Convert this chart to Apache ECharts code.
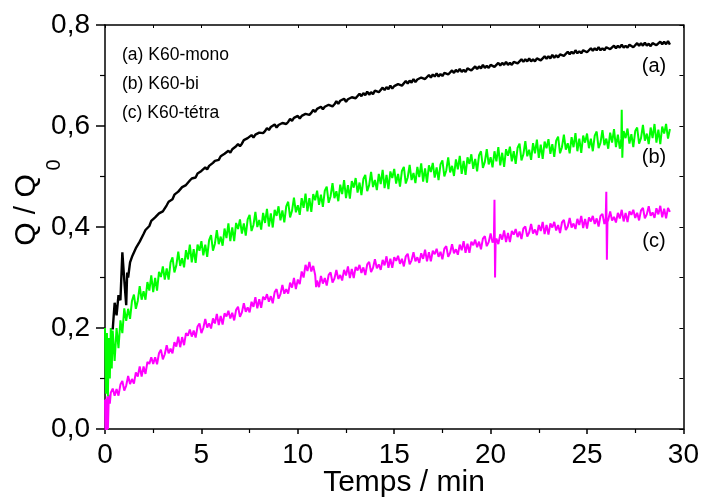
<!DOCTYPE html>
<html>
<head>
<meta charset="utf-8">
<script src="https://cdn.jsdelivr.net/npm/echarts@6/dist/echarts.min.js"></script>
<style>
html,body{margin:0;padding:0;background:#fff;}
#chart{width:702px;height:500px;}
</style>
</head>
<body>
<div id="chart"></div>
<script>
// ---- data (time in min, Q/Q0) ----
const xTickLabels = ['0', '5', '10', '15', '20', '25', '30'];
const yTickLabels = ['0,0', '0,2', '0,4', '0,6', '0,8'];
const legendLines = ['(a) K60-mono', '(b) K60-bi', '(c) K60-tétra'];
const curveTags = ['(a)', '(b)', '(c)'];

// (a) K60-mono
const seriesA = [
[0.4,0.197],[0.5,0.25],[0.6,0.225],[0.7,0.265],[0.8,0.255],[0.9,0.35],[1.0,0.295],[1.1,0.245],[1.15,0.31],[1.2,0.3],[1.3,0.33],
[1.4,0.341],[1.5,0.344],[1.6,0.358],[1.7,0.359],[1.8,0.371],[1.9,0.373],[2.0,0.386],[2.1,0.394],[2.2,0.395],[2.3,0.402],
[2.4,0.412],[2.5,0.41],[2.6,0.419],[2.7,0.418],[2.8,0.427],[2.9,0.424],[3.0,0.431],[3.1,0.432],[3.2,0.443],[3.3,0.45],
[3.4,0.449],[3.5,0.455],[3.6,0.464],[3.7,0.462],[3.8,0.47],[3.9,0.469],[4.0,0.479],[4.1,0.476],[4.2,0.483],[4.3,0.482],
[4.4,0.492],[4.5,0.496],[4.6,0.493],[4.7,0.498],[4.8,0.506],[4.9,0.503],[5.0,0.511],[5.1,0.509],[5.2,0.518],[5.3,0.514],
[5.4,0.521],[5.5,0.519],[5.6,0.527],[5.7,0.531],[5.8,0.528],[5.9,0.533],[6.0,0.54],[6.1,0.537],[6.2,0.545],[6.3,0.543],
[6.4,0.551],[6.5,0.547],[6.6,0.554],[6.7,0.552],[6.8,0.56],[6.9,0.564],[7.0,0.56],[7.1,0.565],[7.2,0.572],[7.3,0.569],
[7.4,0.576],[7.5,0.574],[7.6,0.582],[7.7,0.577],[7.8,0.583],[7.9,0.58],[8.0,0.587],[8.1,0.59],[8.2,0.586],[8.3,0.59],
[8.4,0.596],[8.5,0.592],[8.6,0.598],[8.7,0.595],[8.8,0.603],[8.9,0.597],[9.0,0.602],[9.1,0.599],[9.2,0.606],[9.3,0.609],
[9.4,0.604],[9.5,0.608],[9.6,0.614],[9.7,0.61],[9.8,0.616],[9.9,0.613],[10.0,0.62],[10.1,0.615],[10.2,0.62],[10.3,0.617],
[10.4,0.624],[10.5,0.627],[10.6,0.622],[10.7,0.626],[10.8,0.632],[10.9,0.628],[11.0,0.634],[11.1,0.631],[11.2,0.638],[11.3,0.633],
[11.4,0.638],[11.5,0.635],[11.6,0.642],[11.7,0.644],[11.8,0.639],[11.9,0.643],[12.0,0.649],[12.1,0.644],[12.2,0.65],[12.3,0.647],
[12.4,0.654],[12.5,0.648],[12.6,0.653],[12.7,0.65],[12.8,0.657],[12.9,0.66],[13.0,0.655],[13.1,0.658],[13.2,0.664],[13.3,0.659],
[13.4,0.665],[13.5,0.661],[13.6,0.668],[13.7,0.662],[13.8,0.667],[13.9,0.663],[14.0,0.67],[14.1,0.672],[14.2,0.667],[14.3,0.67],
[14.4,0.676],[14.5,0.671],[14.6,0.677],[14.7,0.673],[14.8,0.68],[14.9,0.674],[15.0,0.679],[15.1,0.676],[15.2,0.683],[15.3,0.685],
[15.4,0.68],[15.5,0.683],[15.6,0.689],[15.7,0.684],[15.8,0.69],[15.9,0.686],[16.0,0.693],[16.1,0.687],[16.2,0.692],[16.3,0.689],
[16.4,0.696],[16.5,0.698],[16.6,0.693],[16.7,0.696],[16.8,0.701],[16.9,0.696],[17.0,0.702],[17.1,0.698],[17.2,0.704],[17.3,0.698],
[17.4,0.703],[17.5,0.699],[17.6,0.705],[17.7,0.707],[17.8,0.702],[17.9,0.705],[18.0,0.71],[18.1,0.705],[18.2,0.711],[18.3,0.707],
[18.4,0.713],[18.5,0.707],[18.6,0.711],[18.7,0.707],[18.8,0.714],[18.9,0.716],[19.0,0.71],[19.1,0.713],[19.2,0.718],[19.3,0.713],
[19.4,0.718],[19.5,0.714],[19.6,0.721],[19.7,0.715],[19.8,0.719],[19.9,0.715],[20.0,0.721],[20.1,0.723],[20.2,0.717],[20.3,0.72],
[20.4,0.725],[20.5,0.72],[20.6,0.725],[20.7,0.721],[20.8,0.727],[20.9,0.721],[21.0,0.725],[21.1,0.721],[21.2,0.727],[21.3,0.729],
[21.4,0.724],[21.5,0.727],[21.6,0.732],[21.7,0.727],[21.8,0.732],[21.9,0.728],[22.0,0.734],[22.1,0.728],[22.2,0.732],[22.3,0.728],
[22.4,0.734],[22.5,0.736],[22.6,0.73],[22.7,0.733],[22.8,0.738],[22.9,0.733],[23.0,0.738],[23.1,0.734],[23.2,0.741],[23.3,0.735],
[23.4,0.74],[23.5,0.736],[23.6,0.742],[23.7,0.744],[23.8,0.739],[23.9,0.742],[24.0,0.747],[24.1,0.742],[24.2,0.747],[24.3,0.743],
[24.4,0.75],[24.5,0.744],[24.6,0.748],[24.7,0.744],[24.8,0.75],[24.9,0.752],[25.0,0.746],[25.1,0.749],[25.2,0.754],[25.3,0.749],
[25.4,0.754],[25.5,0.75],[25.6,0.756],[25.7,0.75],[25.8,0.754],[25.9,0.75],[26.0,0.756],[26.1,0.758],[26.2,0.752],[26.3,0.754],
[26.4,0.759],[26.5,0.754],[26.6,0.759],[26.7,0.755],[26.8,0.761],[26.9,0.755],[27.0,0.759],[27.1,0.755],[27.2,0.761],[27.3,0.762],
[27.4,0.756],[27.5,0.759],[27.6,0.764],[27.7,0.759],[27.8,0.764],[27.9,0.759],[28.0,0.765],[28.1,0.759],[28.2,0.763],[28.3,0.758],
[28.4,0.764],[28.5,0.766],[28.6,0.76],[28.7,0.762],[28.8,0.767],[28.9,0.762],[29.0,0.767],[29.1,0.762],[29.2,0.768],[29.3,0.761]
];

// (b) K60-bi
const seriesB = [
[0.0,0.2],[0.05,0.07],[0.1,0.19],[0.15,0.065],[0.2,0.18],[0.25,0.1],[0.3,0.2],[0.35,0.12],[0.4,0.195],[0.5,0.135],
[0.6,0.2],[0.7,0.16],[0.8,0.215],[0.9,0.19],
[1.0,0.239],[1.1,0.214],[1.2,0.238],[1.3,0.218],[1.4,0.254],[1.5,0.266],[1.6,0.238],[1.7,0.254],[1.8,0.283],[1.9,0.256],
[2.0,0.273],[2.1,0.256],[2.2,0.291],[2.3,0.274],[2.4,0.304],[2.5,0.271],[2.6,0.299],[2.7,0.274],[2.8,0.311],[2.9,0.301],
[3.0,0.322],[3.1,0.296],[3.2,0.318],[3.3,0.296],[3.4,0.33],[3.5,0.34],[3.6,0.31],[3.7,0.324],[3.8,0.351],[3.9,0.323],
[4.0,0.338],[4.1,0.32],[4.2,0.354],[4.3,0.336],[4.4,0.365],[4.5,0.33],[4.6,0.356],[4.7,0.329],[4.8,0.365],[4.9,0.353],
[5.0,0.372],[5.1,0.344],[5.2,0.365],[5.3,0.341],[5.4,0.374],[5.5,0.384],[5.6,0.353],[5.7,0.367],[5.8,0.394],[5.9,0.366],
[6.0,0.381],[6.1,0.363],[6.2,0.397],[6.3,0.378],[6.4,0.407],[6.5,0.372],[6.6,0.399],[6.7,0.372],[6.8,0.408],[6.9,0.396],
[7.0,0.415],[7.1,0.387],[7.2,0.407],[7.3,0.383],[7.4,0.415],[7.5,0.424],[7.6,0.392],[7.7,0.404],[7.8,0.43],[7.9,0.4],
[8.0,0.414],[8.1,0.395],[8.2,0.428],[8.3,0.408],[8.4,0.436],[8.5,0.401],[8.6,0.427],[8.7,0.399],[8.8,0.434],[8.9,0.422],
[9.0,0.441],[9.1,0.413],[9.2,0.433],[9.3,0.409],[9.4,0.441],[9.5,0.45],[9.6,0.419],[9.7,0.432],[9.8,0.458],[9.9,0.429],
[10.0,0.443],[10.1,0.424],[10.2,0.457],[10.3,0.438],[10.4,0.466],[10.5,0.431],[10.6,0.457],[10.7,0.43],[10.8,0.465],[10.9,0.453],
[11.0,0.472],[11.1,0.444],[11.2,0.464],[11.3,0.44],[11.4,0.472],[11.5,0.48],[11.6,0.448],[11.7,0.461],[11.8,0.487],[11.9,0.457],
[12.0,0.471],[12.1,0.451],[12.2,0.484],[12.3,0.465],[12.4,0.493],[12.5,0.457],[12.6,0.483],[12.7,0.456],[12.8,0.491],[12.9,0.478],
[13.0,0.497],[13.1,0.468],[13.2,0.488],[13.3,0.463],[13.4,0.495],[13.5,0.503],[13.6,0.471],[13.7,0.483],[13.8,0.509],[13.9,0.479],
[14.0,0.493],[14.1,0.473],[14.2,0.505],[14.3,0.485],[14.4,0.513],[14.5,0.477],[14.6,0.503],[14.7,0.475],[14.8,0.51],[14.9,0.497],
[15.0,0.515],[15.1,0.486],[15.2,0.505],[15.3,0.48],[15.4,0.511],[15.5,0.519],[15.6,0.486],[15.7,0.498],[15.8,0.523],[15.9,0.493],
[16.0,0.507],[16.1,0.487],[16.2,0.519],[16.3,0.499],[16.4,0.526],[16.5,0.49],[16.6,0.516],[16.7,0.488],[16.8,0.522],[16.9,0.509],
[17.0,0.527],[17.1,0.498],[17.2,0.518],[17.3,0.493],[17.4,0.524],[17.5,0.532],[17.6,0.5],[17.7,0.512],[17.8,0.538],[17.9,0.508],
[18.0,0.521],[18.1,0.501],[18.2,0.534],[18.3,0.514],[18.4,0.541],[18.5,0.505],[18.6,0.531],[18.7,0.503],[18.8,0.538],[18.9,0.525],
[19.0,0.544],[19.1,0.515],[19.2,0.535],[19.3,0.51],[19.4,0.542],[19.5,0.55],[19.6,0.517],[19.7,0.529],[19.8,0.554],[19.9,0.524],
[20.0,0.538],[20.1,0.518],[20.2,0.55],[20.3,0.53],[20.4,0.558],[20.5,0.522],[20.6,0.547],[20.7,0.519],[20.8,0.554],[20.9,0.541],
[21.0,0.559],[21.1,0.53],[21.2,0.55],[21.3,0.525],[21.4,0.557],[21.5,0.565],[21.6,0.532],[21.7,0.544],[21.8,0.57],[21.9,0.54],
[22.0,0.553],[22.1,0.533],[22.2,0.566],[22.3,0.546],[22.4,0.573],[22.5,0.537],[22.6,0.563],[22.7,0.535],[22.8,0.569],[22.9,0.556],
[23.0,0.574],[23.1,0.545],[23.2,0.564],[23.3,0.539],[23.4,0.571],[23.5,0.579],[23.6,0.546],[23.7,0.558],[23.8,0.583],[23.9,0.553],
[24.0,0.566],[24.1,0.546],[24.2,0.578],[24.3,0.558],[24.4,0.586],[24.5,0.55],[24.6,0.575],[24.7,0.547],[24.8,0.581],[24.9,0.567],
[25.0,0.585],[25.1,0.556],[25.2,0.575],[25.3,0.55],[25.4,0.581],[25.5,0.589],[25.6,0.556],[25.7,0.567],[25.8,0.592],[25.9,0.562],
[26.0,0.575],[26.1,0.555],[26.2,0.587],[26.3,0.567],[26.4,0.594],[26.5,0.558],[26.6,0.583],[26.7,0.555],[26.78,0.575],[26.8,0.632],
[26.83,0.537],[26.86,0.57],[26.9,0.59],[27.0,0.576],[27.1,0.595],[27.2,0.565],[27.3,0.584],[27.4,0.558],[27.5,0.59],[27.6,0.597],
[27.7,0.565],[27.8,0.576],[27.9,0.602],[28.0,0.571],[28.1,0.585],[28.2,0.564],[28.3,0.597],[28.4,0.576],[28.5,0.604],[28.6,0.567],
[28.7,0.593],[28.8,0.564],[28.9,0.599],[29.0,0.585],[29.1,0.604],[29.2,0.575],[29.3,0.594]
];

// (c) K60-tétra
const seriesC = [
[0.0,0.058],[0.03,-0.017],[0.06,0.06],[0.09,-0.01],[0.12,0.065],[0.15,0.0],[0.2,0.068],[0.25,0.05],[0.3,0.072],
[0.4,0.08],[0.5,0.066],[0.6,0.079],[0.7,0.066],[0.8,0.088],[0.9,0.095],[1.0,0.076],[1.1,0.086],[1.2,0.105],[1.3,0.089],
[1.4,0.099],[1.5,0.09],[1.6,0.112],[1.7,0.104],[1.8,0.124],[1.9,0.104],[2.0,0.124],[2.1,0.109],[2.2,0.133],[2.3,0.129],
[2.4,0.142],[2.5,0.129],[2.6,0.142],[2.7,0.128],[2.8,0.15],[2.9,0.157],[3.0,0.138],[3.1,0.148],[3.2,0.166],[3.3,0.15],
[3.4,0.159],[3.5,0.15],[3.6,0.172],[3.7,0.163],[3.8,0.183],[3.9,0.162],[4.0,0.182],[4.1,0.166],[4.2,0.19],[4.3,0.185],
[4.4,0.197],[4.5,0.183],[4.6,0.195],[4.7,0.181],[4.8,0.203],[4.9,0.209],[5.0,0.19],[5.1,0.2],[5.2,0.218],[5.3,0.201],
[5.4,0.209],[5.5,0.199],[5.6,0.219],[5.7,0.209],[5.8,0.228],[5.9,0.206],[6.0,0.224],[6.1,0.207],[6.2,0.229],[6.3,0.223],
[6.4,0.234],[6.5,0.219],[6.6,0.23],[6.7,0.215],[6.8,0.236],[6.9,0.242],[7.0,0.222],[7.1,0.231],[7.2,0.249],[7.3,0.232],
[7.4,0.241],[7.5,0.231],[7.6,0.252],[7.7,0.242],[7.8,0.261],[7.9,0.239],[8.0,0.257],[8.1,0.24],[8.2,0.262],[8.3,0.256],
[8.4,0.267],[8.5,0.252],[8.6,0.263],[8.7,0.249],[8.8,0.271],[8.9,0.277],[9.0,0.258],[9.1,0.267],[9.2,0.285],[9.3,0.268],
[9.4,0.277],[9.5,0.268],[9.6,0.29],[9.7,0.28],[9.8,0.299],[9.9,0.277],[10.0,0.296],[10.1,0.287],[10.2,0.312],[10.3,0.3],
[10.4,0.325],[10.5,0.313],[10.6,0.331],[10.7,0.312],[10.8,0.323],[10.9,0.305],[10.95,0.281],[11.0,0.294],[11.1,0.281],
[11.2,0.303],[11.3,0.288],[11.4,0.299],[11.5,0.284],[11.6,0.305],[11.7,0.31],[11.8,0.29],[11.9,0.298],[12.0,0.315],[12.1,0.297],
[12.2,0.305],[12.3,0.294],[12.4,0.315],[12.5,0.304],[12.6,0.322],[12.7,0.299],[12.8,0.317],[12.9,0.299],[13.0,0.321],[13.1,0.314],
[13.2,0.325],[13.3,0.309],[13.4,0.32],[13.5,0.305],[13.6,0.326],[13.7,0.331],[13.8,0.311],[13.9,0.319],[14.0,0.336],[14.1,0.318],
[14.2,0.326],[14.3,0.315],[14.4,0.335],[14.5,0.324],[14.6,0.342],[14.7,0.319],[14.8,0.337],[14.9,0.319],[15.0,0.34],[15.1,0.333],
[15.2,0.343],[15.3,0.327],[15.4,0.337],[15.5,0.322],[15.6,0.342],[15.7,0.347],[15.8,0.326],[15.9,0.334],[16.0,0.35],[16.1,0.332],
[16.2,0.34],[16.3,0.329],[16.4,0.348],[16.5,0.337],[16.6,0.355],[16.7,0.332],[16.8,0.35],[16.9,0.332],[17.0,0.353],[17.1,0.346],
[17.2,0.357],[17.3,0.341],[17.4,0.351],[17.5,0.336],[17.6,0.357],[17.7,0.362],[17.8,0.341],[17.9,0.349],[18.0,0.366],[18.1,0.348],
[18.2,0.356],[18.3,0.345],[18.4,0.365],[18.5,0.354],[18.6,0.372],[18.7,0.349],[18.8,0.367],[18.9,0.349],[19.0,0.371],[19.1,0.364],
[19.2,0.375],[19.3,0.36],[19.4,0.371],[19.5,0.356],[19.6,0.377],[19.7,0.382],[19.8,0.362],[19.9,0.37],[20.0,0.387],[20.1,0.369],
[20.17,0.376],[20.2,0.454],[20.23,0.3],[20.26,0.372],
[20.3,0.377],[20.4,0.366],[20.5,0.386],[20.6,0.375],[20.7,0.393],[20.8,0.37],[20.9,0.388],[21.0,0.37],[21.1,0.392],[21.2,0.385],
[21.3,0.396],[21.4,0.38],[21.5,0.391],[21.6,0.376],[21.7,0.397],[21.8,0.401],[21.9,0.381],[22.0,0.389],[22.1,0.406],[22.2,0.387],
[22.3,0.395],[22.4,0.384],[22.5,0.404],[22.6,0.392],[22.7,0.41],[22.8,0.386],[22.9,0.404],[23.0,0.385],[23.1,0.407],[23.2,0.399],
[23.3,0.41],[23.4,0.393],[23.5,0.404],[23.6,0.388],[23.7,0.409],[23.8,0.414],[23.9,0.394],[24.0,0.401],[24.1,0.418],[24.2,0.399],
[24.3,0.407],[24.4,0.396],[24.5,0.416],[24.6,0.404],[24.7,0.422],[24.8,0.398],[24.9,0.416],[25.0,0.397],[25.1,0.419],[25.2,0.411],
[25.3,0.422],[25.4,0.406],[25.5,0.417],[25.6,0.401],[25.7,0.422],[25.8,0.426],[25.9,0.406],
[25.97,0.416],[26.0,0.47],[26.03,0.335],[26.06,0.41],
[26.1,0.414],[26.2,0.431],[26.3,0.413],[26.4,0.42],[26.5,0.409],[26.6,0.428],[26.7,0.417],[26.8,0.434],[26.9,0.411],[27.0,0.428],
[27.1,0.41],[27.2,0.431],[27.3,0.424],[27.4,0.434],[27.5,0.418],[27.6,0.428],[27.7,0.413],[27.8,0.433],[27.9,0.438],[28.0,0.417],
[28.1,0.425],[28.2,0.441],[28.3,0.422],[28.4,0.429],[28.5,0.418],[28.6,0.437],[28.7,0.425],[28.8,0.442],[28.9,0.419],[29.0,0.436],
[29.1,0.417],[29.2,0.438],[29.3,0.43]
];

// ---- chart ----
const FONT = '"Liberation Sans", Arial, sans-serif';
const chart = echarts.init(document.getElementById('chart'), null, {renderer: 'canvas'});

function baseX(extra) {
  return Object.assign({
    type: 'value', min: 0, max: 30, interval: 5,
    splitLine: {show: false},
    axisLine: {show: true, onZero: false, lineStyle: {color: '#000', width: 1.5}},
  }, extra);
}
function baseY(extra) {
  return Object.assign({
    type: 'value', min: 0, max: 0.8, interval: 0.2,
    splitLine: {show: false},
    axisLine: {show: true, onZero: false, lineStyle: {color: '#000', width: 1.5}},
  }, extra);
}

const option = {
  animation: false,
  backgroundColor: '#fff',
  grid: {left: 105, top: 25, width: 579, height: 404, containLabel: false},
  xAxis: [
    baseX({
      position: 'bottom',
      axisTick: {show: true, inside: false, length: 5, lineStyle: {color: '#000', width: 1.5}},
      minorTick: {show: true, splitNumber: 2, length: 4, lineStyle: {color: '#000', width: 1.2}},
      axisLabel: {
        show: true, color: '#000', fontSize: 28, fontFamily: FONT, margin: 12,
        formatter: v => xTickLabels[Math.round(v / 5)]
      }
    }),
    baseX({
      position: 'top',
      axisTick: {show: true, inside: true, length: 3, lineStyle: {color: '#000', width: 1}},
      minorTick: {show: true, splitNumber: 2, length: 3, lineStyle: {color: '#000', width: 1}},
      axisLabel: {show: false}
    })
  ],
  yAxis: [
    baseY({
      position: 'left',
      axisTick: {show: true, inside: false, length: 9, lineStyle: {color: '#000', width: 1.5}},
      minorTick: {show: true, splitNumber: 2, length: 5, lineStyle: {color: '#000', width: 1.2}},
      axisLabel: {
        show: true, color: '#000', fontSize: 28, fontFamily: FONT, margin: 15,
        formatter: v => yTickLabels[Math.round(v / 0.2)]
      }
    }),
    baseY({
      position: 'right',
      axisTick: {show: true, inside: true, length: 4, lineStyle: {color: '#000', width: 1}},
      minorTick: {show: true, splitNumber: 2, length: 4, lineStyle: {color: '#000', width: 1}},
      axisLabel: {show: false}
    })
  ],
  series: [
    {type: 'line', name: 'K60-tétra', data: seriesC, showSymbol: false, symbol: 'none',
     lineStyle: {color: '#ff00ff', width: 2.0}, z: 2},
    {type: 'line', name: 'K60-bi', data: seriesB, showSymbol: false, symbol: 'none',
     lineStyle: {color: '#00ff00', width: 2.0}, z: 3},
    {type: 'line', name: 'K60-mono', data: seriesA, showSymbol: false, symbol: 'none',
     lineStyle: {color: '#000000', width: 2.4}, z: 4}
  ],
  graphic: [
    {type: 'text', x: 404, y: 483, style: {text: 'Temps / min', font: '30px ' + FONT, fill: '#000', textAlign: 'center', textVerticalAlign: 'middle'}},
    {type: 'text', x: 27, y: 210, rotation: Math.PI / 2, style: {text: 'Q / Q', font: '30px ' + FONT, fill: '#000', textAlign: 'center', textVerticalAlign: 'middle'}},
    {type: 'text', x: 54, y: 165, rotation: Math.PI / 2, style: {text: '0', font: '20px ' + FONT, fill: '#000', textAlign: 'center', textVerticalAlign: 'middle'}},
    {type: 'text', x: 122, y: 55, style: {text: legendLines[0], font: '17.5px ' + FONT, fill: '#000', textAlign: 'left', textVerticalAlign: 'middle'}},
    {type: 'text', x: 122, y: 84, style: {text: legendLines[1], font: '17.5px ' + FONT, fill: '#000', textAlign: 'left', textVerticalAlign: 'middle'}},
    {type: 'text', x: 122, y: 113, style: {text: legendLines[2], font: '17.5px ' + FONT, fill: '#000', textAlign: 'left', textVerticalAlign: 'middle'}},
    {type: 'text', x: 654, y: 66, style: {text: curveTags[0], font: '20px ' + FONT, fill: '#000', textAlign: 'center', textVerticalAlign: 'middle'}},
    {type: 'text', x: 654, y: 157, style: {text: curveTags[1], font: '20px ' + FONT, fill: '#000', textAlign: 'center', textVerticalAlign: 'middle'}},
    {type: 'text', x: 654, y: 241, style: {text: curveTags[2], font: '20px ' + FONT, fill: '#000', textAlign: 'center', textVerticalAlign: 'middle'}}
  ]
};
chart.setOption(option);
</script>
</body>
</html>
